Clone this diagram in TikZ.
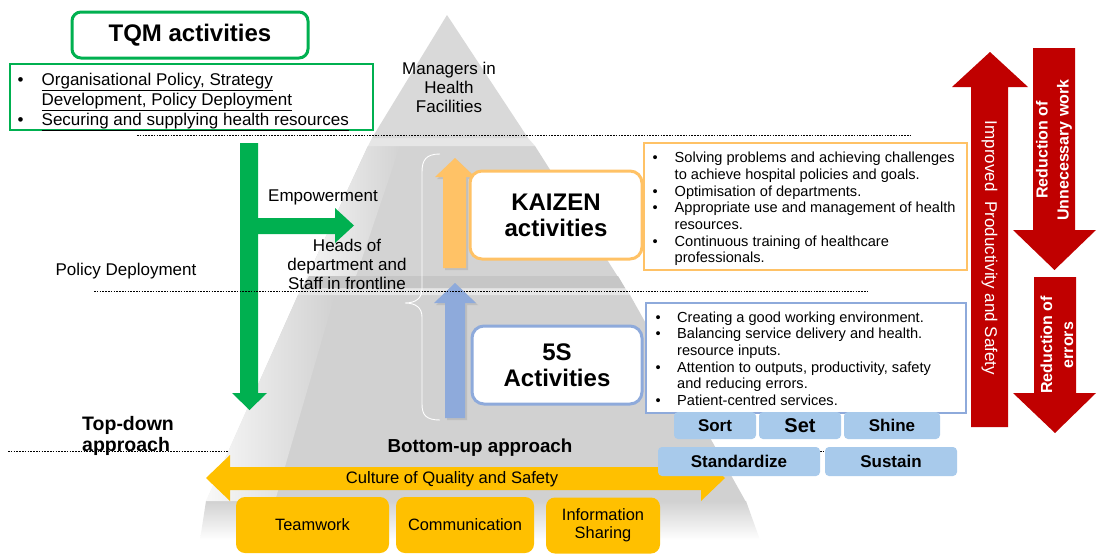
\documentclass[tikz,border=0pt]{standalone}
\usepackage{fontspec}
\setmainfont{Liberation Sans}
\usetikzlibrary{calc}
\definecolor{tqmgreen}{HTML}{00B050}
\definecolor{kaizen}{HTML}{FFC266}
\definecolor{fives}{HTML}{8EAADB}
\definecolor{sbox}{HTML}{A8CAEB}
\definecolor{gold}{HTML}{FFC000}
\definecolor{redarrow}{HTML}{C00000}
\definecolor{pyrtop}{HTML}{D9D9D9}
\definecolor{pyrmid}{HTML}{D3D3D3}
\definecolor{pyrbot}{HTML}{D1D1D1}
\definecolor{pyrface}{HTML}{E6E6E6}
\definecolor{pyrdark}{HTML}{C6C6C6}
\newcommand{\fsz}[2]{\fontsize{#1}{#2}\selectfont}
\newcommand{\bul}[1]{\makebox[#1][l]{\textbullet}}
\newcommand{\ind}[1]{\hspace*{#1}}
\begin{document}
\begin{tikzpicture}[x=1pt,y=-1pt,
  txt/.style={inner sep=0pt, align=center, text=black},
  listtxt/.style={inner sep=0pt, align=left, anchor=north west, text=black},
  dotline/.style={black, line width=0.7pt, dash pattern=on 1.6pt off 1.2pt},
  gbox/.style={draw=tqmgreen, fill=white, inner sep=0pt},
  actbox/.style={fill=white, line width=3pt, rounded corners=12pt, inner sep=0pt, align=center, font=\fsz{24}{26}\bfseries},
  sbtn/.style={fill=sbox, rounded corners=4pt, inner sep=0pt, font=\fsz{17}{19}\bfseries},
  gbtn/.style={fill=gold, rounded corners=9pt, inner sep=0pt, align=center, font=\fsz{16.4}{18}},
  redtxt/.style={text=white, inner sep=0pt, align=center},
]
\useasboundingbox (0,0) rectangle (1098,554);
\fill[white] (0,0) rectangle (1098,554);

% bottom dashed line (behind pyramid)
\draw[dotline] (8,451) -- (825,451);

% pyramid
\fill[pyrbot] (298,295) -- (630,295) -- (746,502) -- (206,502) -- cycle;
\shade[top color=pyrbot, bottom color=white] (206,501) -- (746,501) -- (760,540) -- (200,540) -- cycle;
\shade[left color=white!85!pyrbot, right color=pyrbot] (298,295) -- (335,295) -- (275,501) -- (206,501) -- cycle;
\fill[pyrface] (302,288) -- (625,288) -- (630,295) -- (298,295) -- cycle;
\fill[pyrmid] (368,146) -- (535,146) -- (625,288) -- (302,288) -- cycle;
\shade[left color=white!80!pyrmid, right color=pyrmid] (368,146) -- (400,146) -- (352,288) -- (302,288) -- cycle;
\fill[pyrdark] (309,276) -- (618,276) -- (625,288) -- (302,288) -- cycle;
\fill[pyrface] (372,138) -- (528,138) -- (535,146) -- (368,146) -- cycle;
\fill[pyrtop] (447,15) -- (528,138) -- (372,138) -- cycle;

% TQM title and list
\node[gbox, line width=3pt, rounded corners=9pt, minimum width=236pt, minimum height=46pt,
      font=\fsz{24}{26}\bfseries] (tqm) at (190,35) {TQM activities};
\node[gbox, line width=2.5pt, minimum width=363pt, minimum height=66pt] (tqmbox) at (191.5,97) {};
\node[listtxt, font=\fsz{17}{20}] (tqmlist) at (17.5,72.5)
  {\bul{24pt}\underline{Organisational Policy, Strategy}\\
   \ind{24pt}\underline{Development, Policy Deployment}\\
   \bul{24pt}\underline{Securing and supplying health resources}};

% Managers text
\node[txt, font=\fsz{17}{19}] (mgr) at (449,87) {Managers in\\Health\\Facilities};

% green arrows
\fill[tqmgreen] (240,143) -- (258,143) -- (258,393) -- (267,393) -- (249.5,410)
  -- (232,393) -- (240,393) -- cycle;
\fill[tqmgreen] (257,218) -- (335,218) -- (335,208) -- (354,225.5) -- (335,243)
  -- (335,234) -- (257,234) -- cycle;
\node[txt, font=\fsz{17}{19}] (emp) at (323,197.5) {Empowerment};
\node[txt, font=\fsz{17}{19}] (heads) at (347,264) {Heads of\\department and\\Staff in frontline};
\node[txt, font=\fsz{17}{19}] (policy) at (126,271) {Policy Deployment};
\node[txt, align=left, anchor=west, font=\fsz{19.5}{21}\bfseries] (topdown) at (82,435.5) {Top-down\\approach};

% brace
\draw[white, line width=0.9pt] (440,154) .. controls (426,154) and (422,160) .. (422,172)
  -- (422,289) .. controls (422,298) and (416,303) .. (405,303)
  .. controls (416,303) and (422,308) .. (422,317) -- (422,404)
  .. controls (422,415) and (426,420) .. (440,420);

% up arrows
\fill[black!30, opacity=0.6] (445,270) -- (445,179) -- (437,179) -- (457,160) -- (477,179) -- (468,179) -- (468,270) -- cycle;
\fill[kaizen] (443,268) -- (443,177) -- (435,177) -- (455,158) -- (475,177) -- (466,177) -- (466,268) -- cycle;
\fill[black!30, opacity=0.6] (447,420) -- (447,305) -- (436,305) -- (457,285) -- (478,305) -- (467,305) -- (467,420) -- cycle;
\fill[fives] (445,418) -- (445,303) -- (434,303) -- (455,283) -- (476,303) -- (465,303) -- (465,418) -- cycle;

% activity boxes
\node[actbox, draw=kaizen, minimum width=172pt, minimum height=88pt] (kz) at (556,215) {KAIZEN\\activities};
\node[actbox, draw=fives, minimum width=170pt, minimum height=78pt] (fs) at (557,365) {5S\\Activities};

% list boxes
\node[draw=kaizen, fill=white, line width=2pt, minimum width=323pt, minimum height=127pt, inner sep=0pt] (kzbox) at (805.5,206.5) {};
\node[listtxt, font=\fsz{14.6}{16.7}] (kzlist) at (652.5,152)
  {\bul{22pt}Solving problems and achieving challenges\\
   \ind{22pt}to achieve hospital policies and goals.\\
   \bul{22pt}Optimisation of departments.\\
   \bul{22pt}Appropriate use and management of health\\
   \ind{22pt}resources.\\
   \bul{22pt}Continuous training of healthcare\\
   \ind{22pt}professionals.};
\node[draw=fives, fill=white, line width=2pt, minimum width=320pt, minimum height=110pt, inner sep=0pt] (fsbox) at (806,358) {};
\node[listtxt, font=\fsz{14.6}{16.6}] (fslist) at (655.5,311.5)
  {\bul{21.5pt}Creating a good working environment.\\
   \bul{21.5pt}Balancing service delivery and health.\\
   \ind{21.5pt}resource inputs.\\
   \bul{21.5pt}Attention to outputs, productivity, safety\\
   \ind{21.5pt}and reducing errors.\\
   \bul{21.5pt}Patient-centred services.};

% bottom-up text
\node[txt, font=\fsz{18.8}{20}\bfseries] (bu) at (480,448) {Bottom-up approach};

% culture arrow
\fill[gold] (206,478) -- (230,455) -- (230,467) -- (701,467) -- (701,455) -- (725,478)
  -- (701,501) -- (701,490) -- (230,490) -- (230,501) -- cycle;
\node[txt, font=\fsz{16.6}{18}] (culture) at (452,479.5) {Culture of Quality and Safety};

% 5S buttons
\node[sbtn, minimum width=82pt, minimum height=27pt] (sort) at (715,425.5) {Sort};
\node[sbtn, minimum width=82pt, minimum height=27pt, font=\fsz{20}{22}\bfseries] (set) at (800,425.5) {Set};
\node[sbtn, minimum width=96pt, minimum height=27pt] (shine) at (892,425.5) {Shine};
\node[sbtn, minimum width=162pt, minimum height=29pt] (std) at (739,461.5) {Standardize};
\node[sbtn, minimum width=132pt, minimum height=29pt] (sus) at (891,461.5) {Sustain};

% bottom gold boxes
\node[gbtn, minimum width=153pt, minimum height=56pt] (team) at (312.5,525) {Teamwork};
\node[gbtn, minimum width=138pt, minimum height=56pt] (comm) at (465,525) {Communication};
\node[gbtn, minimum width=114pt, minimum height=56pt] (info) at (603,525.5) {Information\\Sharing};

% red arrows
\fill[redarrow] (990,52) -- (1028,87) -- (1008,87) -- (1008,427) -- (971,427) -- (971,87) -- (952,87) -- cycle;
\fill[redarrow] (1033,48) -- (1075,48) -- (1075,230) -- (1096,230) -- (1054.5,270) -- (1013,230) -- (1033,230) -- cycle;
\fill[redarrow] (1034,277) -- (1076,277) -- (1076,393) -- (1096,393) -- (1055,433) -- (1013,393) -- (1034,393) -- cycle;
\node[redtxt, rotate=-90, font=\fsz{17}{19}] (improved) at (989.5,248) {Improved\ \ Productivity and Safety};
\node[redtxt, rotate=90, font=\fsz{16}{21}\bfseries] (redwork) at (1054,150) {Reduction of\\Unnecessary work};
\node[redtxt, rotate=90, font=\fsz{16}{21}\bfseries] (rederr) at (1057,345) {Reduction of\\errors};

% dashed lines over pyramid
\draw[dotline] (137,135.5) -- (912,135.5);
\draw[dotline] (94,291.5) -- (868,291.5);
\end{tikzpicture}
\end{document}
